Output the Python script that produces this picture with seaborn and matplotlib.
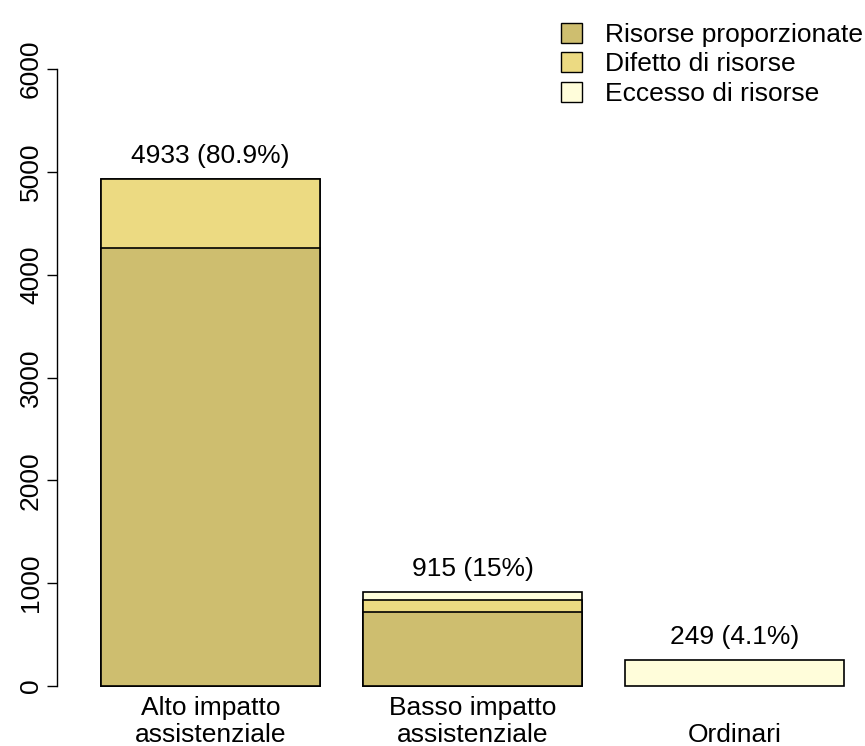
import matplotlib
matplotlib.use("Agg")
import matplotlib.pyplot as plt
import seaborn as sns
import pandas as pd
from matplotlib.patches import Patch

# Data
categories = ["Alto impatto\nassistenziale", "Basso impatto\nassistenziale", "\nOrdinari"]
proporzionate = [4260, 723, 0]
difetto = [673, 114, 0]
eccesso = [0, 78, 249]
totals = [4933, 915, 249]
perc_labels = ["4933 (80.9%)", "915 (15%)", "249 (4.1%)"]
series_names = ["Risorse proporzionate", "Difetto di risorse", "Eccesso di risorse"]
colors = ["#CEBE6F", "#ECDA82", "#FFFDDA"]

df = pd.DataFrame({
    "cat": categories,
    "prop": proporzionate,
    "dif": difetto,
    "ecc": eccesso,
})
df["cum2"] = df["prop"] + df["dif"]
df["cum3"] = df["cum2"] + df["ecc"]

sns.set_theme(style="white")
plt.rcParams["font.family"] = ["Liberation Sans", "DejaVu Sans"]
plt.rcParams["text.color"] = "black"
plt.rcParams["xtick.color"] = "black"
plt.rcParams["ytick.color"] = "black"

W, H = 865, 746
fig = plt.figure(figsize=(W / 100, H / 100), dpi=100)
ax_left, ax_right, ax_bottom, ax_top = 57, 865, 688, 40
ax = fig.add_axes([ax_left / W, 1 - ax_bottom / H, (ax_right - ax_left) / W, (ax_bottom - ax_top) / H])

# stacked bars by overlaying cumulative totals
bw = 1 / 1.2
for col, c in zip(["cum3", "cum2", "prop"], colors[::-1]):
    sns.barplot(data=df, x="cat", y=col, color=c, width=bw, edgecolor="black",
                linewidth=1.2, saturation=1, ax=ax, order=categories)

# hide zero-height bars
for p in ax.patches:
    if p.get_height() == 0:
        p.set_visible(False)

# axis scaling: 262 px per category, 0 at y=686, 6000 at y=69
px_cat = 262
c0 = 210.5
ax.set_xlim((ax_left - c0) / px_cat, 2 + (ax_right - (c0 + 2 * px_cat)) / px_cat)
py = (686 - 69) / 6000
ax.set_ylim(-(ax_bottom - 686) / py, 6000 + (69 - ax_top) / py)

for i, (t, lab) in enumerate(zip(totals, perc_labels)):
    ax.annotate(lab, (i, t), xytext=(0, 16.5), textcoords="offset points",
                ha="center", va="center", fontsize=19, color="black")

ax.set_xlabel("")
ax.set_ylabel("")
ax.set_yticks(range(0, 6001, 1000))
ax.set_yticklabels([str(v) for v in range(0, 6001, 1000)], rotation=90, va="center", fontsize=19)
ax.tick_params(axis="y", left=True, length=7, width=1, color="black", pad=3)
ax.tick_params(axis="x", bottom=False, labelsize=19, pad=0)
for s in ["top", "right", "bottom"]:
    ax.spines[s].set_visible(False)
ax.spines["left"].set_bounds(0, 6000)
ax.spines["left"].set_color("black")
ax.spines["left"].set_linewidth(1)
for lbl in ax.get_xticklabels():
    lbl.set_linespacing(1.15)

handles = [Patch(facecolor=c, edgecolor="black", label=n) for c, n in zip(colors, series_names)]
fig.legend(handles=handles, loc="upper left", bbox_to_anchor=(550 / W, 1 - 12 / H),
           frameon=False, fontsize=19, handlelength=0.8, handleheight=0.8,
           handletextpad=0.9, labelspacing=0.2, borderaxespad=0)

fig.savefig("out.png", dpi=100)
